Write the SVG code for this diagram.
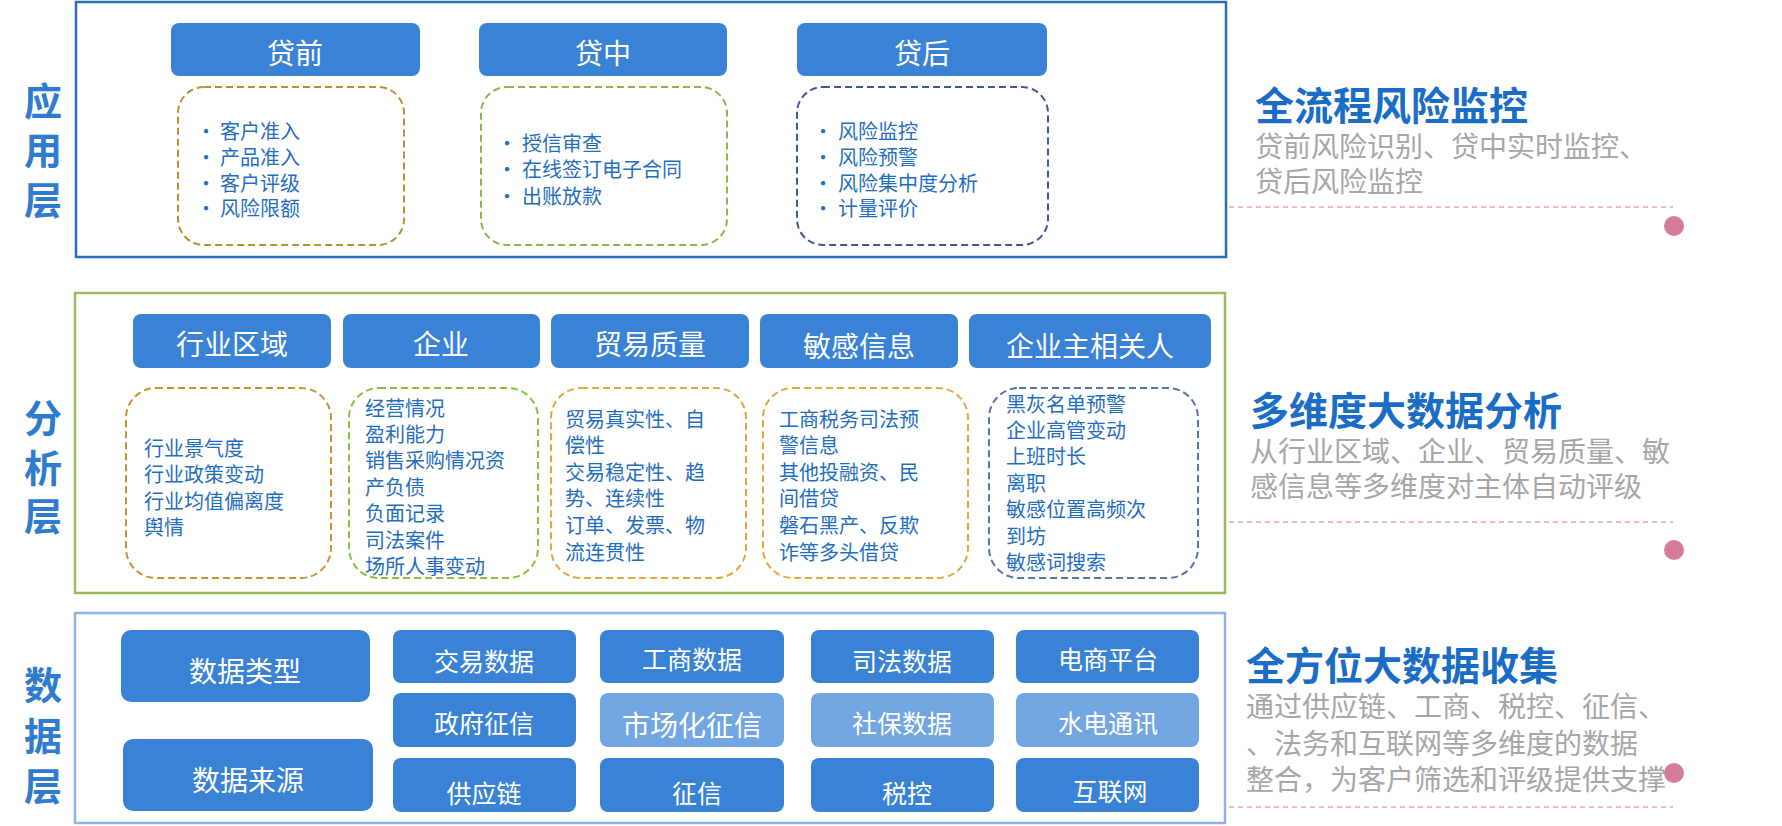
<svg xmlns="http://www.w3.org/2000/svg" width="1782" height="826" viewBox="0 0 1782 826">
<style>
text{font-family:"Noto Sans CJK SC","Noto Sans",sans-serif}
.lbl{font-size:38px;font-weight:bold;fill:#2e7bd0;text-anchor:middle;dominant-baseline:central}
.card{fill:#3a82d6}
.light{fill:#72a6e2}
.ct{fill:#fff;font-size:28px;text-anchor:middle;dominant-baseline:central}
.dt{fill:#fff;font-size:25px;text-anchor:middle;dominant-baseline:central}
.it{fill:#1f6ec2;font-size:20px;dominant-baseline:central}
.dash{fill:none;stroke-width:2;stroke-dasharray:7 4}
.ttl{fill:#1a6dc6;font-size:39px;font-weight:bold;dominant-baseline:central}
.sub{fill:#a6a6a6;font-size:28px;dominant-baseline:central}
.pl{stroke:#e8a0b0;stroke-width:1.5;stroke-dasharray:5 4}
.dot{fill:#d57a9a}
</style>
<g id="labels">
<text class="lbl" x="43" y="98">应</text><text class="lbl" x="43" y="147">用</text><text class="lbl" x="43" y="197">层</text>
<text class="lbl" x="43" y="415">分</text><text class="lbl" x="43" y="465">析</text><text class="lbl" x="43" y="513">层</text>
<text class="lbl" x="43" y="682">数</text><text class="lbl" x="43" y="733">据</text><text class="lbl" x="43" y="783">层</text>
</g>
<g id="app-layer">
<rect x="76" y="2" width="1150" height="255" fill="none" stroke="#2a6db5" stroke-width="2.5"/>
<rect class="card" x="171" y="23" width="249" height="53" rx="8"/><text class="ct" x="295" y="52">贷前</text>
<rect class="card" x="479" y="23" width="248" height="53" rx="8"/><text class="ct" x="603" y="52">贷中</text>
<rect class="card" x="797" y="23" width="250" height="53" rx="8"/><text class="ct" x="922" y="52">贷后</text>
<rect class="dash" x="178" y="87" width="226" height="158" rx="26" stroke="#b8902f"/>
<rect class="dash" x="481" y="87" width="246" height="158" rx="26" stroke="#8ab848"/>
<rect class="dash" x="797" y="87" width="251" height="158" rx="26" stroke="#3f5a90"/>
<g class="it">
<text x="196" y="130">•</text><text x="220" y="130">客户准入</text>
<text x="196" y="156">•</text><text x="220" y="156">产品准入</text>
<text x="196" y="182">•</text><text x="220" y="182">客户评级</text>
<text x="196" y="207">•</text><text x="220" y="207">风险限额</text>
<text x="497" y="142">•</text><text x="522" y="142">授信审查</text>
<text x="497" y="168">•</text><text x="522" y="168">在线签订电子合同</text>
<text x="497" y="195">•</text><text x="522" y="195">出账放款</text>
<text x="813" y="130">•</text><text x="838" y="130">风险监控</text>
<text x="813" y="156">•</text><text x="838" y="156">风险预警</text>
<text x="813" y="182">•</text><text x="838" y="182">风险集中度分析</text>
<text x="813" y="207">•</text><text x="838" y="207">计量评价</text>
</g>
</g>
<g id="analysis-layer">
<rect x="75" y="293" width="1150" height="300" fill="none" stroke="#9bbb59" stroke-width="2.5"/>
<rect class="card" x="133" y="314" width="198" height="54" rx="8"/><text class="ct" x="232" y="343">行业区域</text>
<rect class="card" x="343" y="314" width="197" height="54" rx="8"/><text class="ct" x="441" y="343">企业</text>
<rect class="card" x="551" y="314" width="198" height="54" rx="8"/><text class="ct" x="650" y="343">贸易质量</text>
<rect class="card" x="760" y="314" width="198" height="54" rx="8"/><text class="ct" x="859" y="345">敏感信息</text>
<rect class="card" x="969" y="314" width="242" height="54" rx="8"/><text class="ct" x="1090" y="345">企业主相关人</text>
<rect class="dash" x="126" y="388" width="205" height="190" rx="30" stroke="#c4952f"/>
<rect class="dash" x="349" y="388" width="189" height="190" rx="30" stroke="#8ac040"/>
<rect class="dash" x="551" y="388" width="195" height="190" rx="30" stroke="#e2a840"/>
<rect class="dash" x="763" y="388" width="205" height="190" rx="30" stroke="#e2a840"/>
<rect class="dash" x="989" y="388" width="209" height="190" rx="30" stroke="#5575a8"/>
<g class="it">
<text x="144" y="447">行业景气度</text><text x="144" y="473">行业政策变动</text><text x="144" y="500">行业均值偏离度</text><text x="144" y="526">舆情</text>
<text x="365" y="407">经营情况</text><text x="365" y="433">盈利能力</text><text x="365" y="459">销售采购情况资</text><text x="365" y="486">产负债</text><text x="365" y="512">负面记录</text><text x="365" y="539">司法案件</text><text x="365" y="565">场所人事变动</text>
<text x="565" y="418">贸易真实性、自</text><text x="565" y="444">偿性</text><text x="565" y="471">交易稳定性、趋</text><text x="565" y="497">势、连续性</text><text x="565" y="524">订单、发票、物</text><text x="565" y="551">流连贯性</text>
<text x="779" y="418">工商税务司法预</text><text x="779" y="444">警信息</text><text x="779" y="471">其他投融资、民</text><text x="779" y="497">间借贷</text><text x="779" y="524">磐石黑产、反欺</text><text x="779" y="551">诈等多头借贷</text>
<text x="1006" y="403">黑灰名单预警</text><text x="1006" y="429">企业高管变动</text><text x="1006" y="455">上班时长</text><text x="1006" y="482">离职</text><text x="1006" y="508">敏感位置高频次</text><text x="1006" y="535">到坊</text><text x="1006" y="561">敏感词搜索</text>
</g>
</g>
<g id="data-layer">
<rect x="75" y="613" width="1150" height="210" fill="none" stroke="#8fb4e3" stroke-width="2.5"/>
<rect class="card" x="121" y="630" width="249" height="72" rx="10"/><text class="ct" x="245" y="670">数据类型</text>
<rect class="card" x="123" y="739" width="250" height="72" rx="10"/><text class="ct" x="248" y="779">数据来源</text>
<rect class="card" x="393" y="630" width="183" height="53" rx="8"/><text class="dt" x="484" y="660">交易数据</text>
<rect class="card" x="600" y="630" width="184" height="53" rx="8"/><text class="dt" x="692" y="658">工商数据</text>
<rect class="card" x="811" y="630" width="183" height="53" rx="8"/><text class="dt" x="902" y="660">司法数据</text>
<rect class="card" x="1016" y="630" width="183" height="53" rx="8"/><text class="dt" x="1108" y="658">电商平台</text>
<rect class="card" x="393" y="693" width="183" height="54" rx="8"/><text class="dt" x="484" y="722">政府征信</text>
<rect class="light" x="600" y="693" width="184" height="54" rx="8"/><text class="ct" x="692" y="724">市场化征信</text>
<rect class="light" x="811" y="693" width="183" height="54" rx="8"/><text class="dt" x="902" y="722">社保数据</text>
<rect class="light" x="1016" y="693" width="183" height="54" rx="8"/><text class="dt" x="1108" y="722">水电通讯</text>
<rect class="card" x="393" y="758" width="183" height="54" rx="8"/><text class="dt" x="484" y="792">供应链</text>
<rect class="card" x="600" y="758" width="184" height="54" rx="8"/><text class="dt" x="697" y="792">征信</text>
<rect class="card" x="811" y="758" width="183" height="54" rx="8"/><text class="dt" x="907" y="792">税控</text>
<rect class="card" x="1016" y="758" width="183" height="54" rx="8"/><text class="dt" x="1110" y="790">互联网</text>
</g>
<g id="side-notes">
<text class="ttl" x="1255" y="103">全流程风险监控</text>
<text class="sub" x="1255" y="145">贷前风险识别、贷中实时监控、</text>
<text class="sub" x="1255" y="180">贷后风险监控</text>
<line class="pl" x1="1229" y1="207" x2="1673" y2="207"/><circle class="dot" cx="1674" cy="226" r="10"/>
<text class="ttl" x="1250" y="408">多维度大数据分析</text>
<text class="sub" x="1250" y="450">从行业区域、企业、贸易质量、敏</text>
<text class="sub" x="1250" y="485">感信息等多维度对主体自动评级</text>
<line class="pl" x1="1229" y1="522" x2="1673" y2="522"/><circle class="dot" cx="1674" cy="550" r="10"/>
<circle class="dot" cx="1674" cy="773" r="10"/>
<text class="ttl" x="1246" y="663">全方位大数据收集</text>
<text class="sub" x="1246" y="705">通过供应链、工商、税控、征信、</text>
<text class="sub" x="1246" y="742">、法务和互联网等多维度的数据</text>
<text class="sub" x="1246" y="778">整合，为客户筛选和评级提供支撑</text>
<line class="pl" x1="1229" y1="807" x2="1673" y2="807"/>
</g>
</svg>
